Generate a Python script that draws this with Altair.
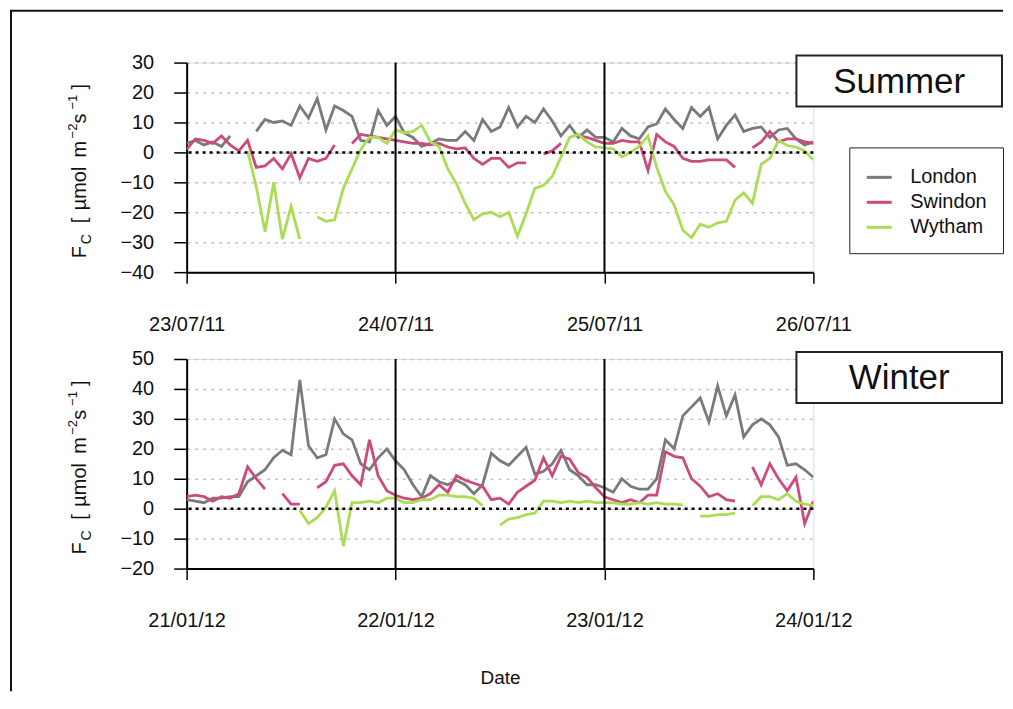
import pandas as pd
import altair as alt

FONT = 'Liberation Sans'

sites = ['London', 'Swindon', 'Wytham']
colours = ['#7a7a7a', '#cc4a7c', '#aadd55']

# hourly flux values (umol m-2 s-1), None = missing
summer_start = (2011, 7, 23)
summer_london = [3, 4, 2.5, 3.5, 2, 5.5, None, None, 7, 11, 10, 10.5, 9, 15.5, 11.5, 18, 7.5, 15.5, 14, 12, 4, 3.5, 14, 9,
                 12, 6.5, 5, 2, 3, 4.5, 4, 4, 7, 4, 11, 7, 8.5, 15, 8.5, 12, 10, 14.5, 10.5, 5.5, 9, 5, 7.5, 5,
                 5, 3.5, 8, 5.5, 4.5, 8.5, 9.5, 14.5, 11, 8, 15, 12, 15, 4.5, 9, 12.5, 7, 8, 8.5, 5, 7.5, 8, 4.5, 2.5, 3.5]
summer_swindon = [1, 4.5, 4, 3, 5.5, 2.5, 0.5, 4, -5, -4.5, -2, -5.5, -0.5, -8.5, -2, -3, -2, 2.5, None, 3, 6, 5.5, 5, 4.5,
                  4, 3.5, 3, 3, 2.5, 3, 1.8, 1.2, 1.5, -2, -4, -2, -2, -5, -3.5, -3.5, None, -0.5, 0.5, 3, None, 5.5, 5, 4,
                  3, 3, 4, 3.5, 3.5, -6, 6, 3.5, 2, -2, -3, -3, -2.5, -2.5, -2.5, -5, None, 1.5, 3.5, 7, 3.5, 4.5, 4.5, 3.5, 3]
summer_wytham = [None, None, None, None, None, None, None, 0.5, -11.5, -26.5, -10, -29, -18, -29, None, -21.5, -23, -22.5, -12, -5.5, 1, 5, 5, 3,
                 7.5, 6.5, 7, 9, 3.5, 2, -5.5, -10.5, -17, -22.5, -20.5, -20, -21.5, -20, -28, -20.5, -12, -11, -8, -1.5, 5, 6, 3.5, 1.8,
                 1.5, 1.2, -1.5, 0, 2, 5.5, -5, -13, -17.5, -26, -28.5, -24, -25, -23.5, -23, -16, -13.5, -17, -4, -2, 4, 2.3, 1.8, 0.5, -2.5]

winter_start = (2012, 1, 21)
winter_london = [3, 2.5, 2, 3.5, 3.5, 4, 4, 9, 11, 13, 17, 19.5, 18, 43, 21, 17, 18, 30, 25, 23, 15, 13, 17, 20,
                 16, 13, 8, 4, 11, 9, 8, 9.5, 8, 5, 8, 18.5, 16, 14.5, 17.5, 20.5, 11.5, 12.5, 15, 19.5, 13, 11, 8, 8,
                 7, 5.5, 10, 7.5, 6.5, 6.5, 10, 23, 20, 31, 34, 37, 29, 41, 31, 38, 24, 28, 30, 28, 24, 14.5, 15, 13, 10.5]
winter_swindon = [4, 4.5, 4, 2.5, 4, 3.5, 5, 14, 10, 6.5, None, 5, 1.5, 1.5, None, 7, 9, 14.5, 15, 11, 8, 23, 11, 6,
                  4.5, 3.5, 3, 3.5, 5, 8, 5.5, 11, 9.5, 8.5, 7.5, 3, 3.5, 1.5, 5.5, 7.5, 9.5, 17, 11, 17.5, 16.5, 12, 10.5, 7,
                  4, 3, 2, 3, 2, 4.5, 4.5, 19, 17.5, 17, 10, 7.5, 4, 5, 3, 2.5, None, 14, 8, 15, 10, 6, 10.5, -5, 2.5]
winter_wytham = [None, None, None, None, None, None, None, None, None, None, None, None, None, -0.5, -5, -3, 0.5, 6, -12.5, 2, 2, 2.5, 2, 3.5,
                 3.5, 2, 2, 3, 3, 4.5, 4.5, 4, 4, 3.5, 1, None, -5.5, -3.5, -3, -2, -1.5, 2.5, 2.5, 2, 2.5, 2, 2.5, 2,
                 2, 2, 1.5, 1.5, 2, 1.5, 2, 1.5, 1.5, 1.3, None, -2.5, -2.5, -2, -2, -1.5, None, 1, 4, 4, 3, 5, 2.5, 1.5, 1]

seasons = {
    'Summer': (summer_start, [-40, 30], [summer_london, summer_swindon, summer_wytham]),
    'Winter': (winter_start, [-20, 50], [winter_london, winter_swindon, winter_wytham]),
}

# y-axis title pieces: text, position along the axis, size, baseline offset
title_pieces = [('F', 196, 20, 0), ('C', 182, 14, 5), ('[', 161, 20, 0), ('\u00b5mol', 148, 20, 0),
                ('m', 95, 20, 0), ('\u22122', 76, 13, -9), ('s', 61, 20, 0), ('\u22121', 47, 13, -9), (']', 27, 20, 0)]

W, H = 628, 210


def build_frame(season):
    start, ydom, series = seasons[season]
    t0 = pd.Timestamp(*start)
    rows = []
    for site, values in zip(sites, series):
        seg = 0
        for h, v in enumerate(values):
            if v is None:
                seg += 1
                continue
            rows.append({'site': site, 'seg': f'{site}{seg}',
                         'time': t0 + pd.Timedelta(hours=h), 'fc': v})
    return pd.DataFrame(rows)


def panel(season, top):
    start, ydom, series = seasons[season]
    df = build_frame(season)
    days = [alt.DateTime(year=start[0], month=start[1], date=start[2] + d) for d in range(4)]
    x_scale = alt.Scale(domain=[days[0], days[-1]])
    y_scale = alt.Scale(domain=ydom, nice=False)

    x_axis = alt.Axis(values=days, format='%d/%m/%y', labelFontSize=20, labelFont=FONT,
                      labelColor='#111', tickSize=11, tickColor='black', tickWidth=1.5,
                      domainColor='black', domainWidth=2, labelPadding=31, grid=False,
                      labelFlush=False, labelOverlap=False,
                      title=None if top else 'Date', titleFontSize=19, titleFont=FONT,
                      titleFontWeight='normal', titleColor='#111', titlePadding=38)
    y_axis = alt.Axis(values=list(range(ydom[0], ydom[1] + 1, 10)), title=None,
                      labelFontSize=20, labelFont=FONT, labelColor='#111', tickSize=13,
                      tickColor='black', tickWidth=1.5, domainColor='black', domainWidth=2,
                      labelPadding=20, labelOverlap=False, labelFlush=False,
                      grid=True, gridColor='#c4c4c4', gridDash=[3, 5], gridWidth=1.5)

    if top:
        legend = alt.Legend(title=None, orient='none', legendX=664, legendY=85,
                            symbolType='stroke', symbolStrokeWidth=3, symbolSize=625,
                            labelFontSize=20, labelFont=FONT, labelColor='#111',
                            labelOffset=17, rowPadding=1, padding=16,
                            strokeColor='#222', fillColor='white')
    else:
        legend = None

    lines = alt.Chart(df).mark_line(strokeWidth=2.8, clip=True).encode(
        x=alt.X('time:T', scale=x_scale, axis=x_axis),
        y=alt.Y('fc:Q', scale=y_scale, axis=y_axis),
        color=alt.Color('site:N', scale=alt.Scale(domain=sites, range=colours), legend=legend),
        detail='seg:N',
    )

    day_df = pd.DataFrame({'time': [pd.Timestamp(*start) + pd.Timedelta(days=d) for d in (1, 2)]})
    day_rules = alt.Chart(day_df).mark_rule(color='black', strokeWidth=2).encode(
        x=alt.X('time:T', scale=x_scale, axis=x_axis))

    zero = alt.Chart(pd.DataFrame({'fc': [0]})).mark_rule(
        color='black', strokeDash=[3, 4], strokeWidth=2.5).encode(
        y=alt.Y('fc:Q', scale=y_scale, axis=y_axis))

    lab = pd.DataFrame({'season': [season]})
    box = alt.Chart(lab).mark_rect(fill='white', stroke='#222', strokeWidth=2).encode(
        x=alt.value(611), x2=alt.value(817), y=alt.value(-7), y2=alt.value(44))
    box_text = alt.Chart(lab).mark_text(fontSize=35, font=FONT, color='#111',
                                        baseline='middle', align='center').encode(
        x=alt.value(714), y=alt.value(19), text='season:N')

    layers = [lines, day_rules, zero, box, box_text]

    for text, pos, size, off in title_pieces:
        layers.append(alt.Chart(pd.DataFrame({'t': [text]})).mark_text(
            angle=270, align='left', baseline='alphabetic', fontSize=size, font=FONT,
            color='#111').encode(x=alt.value(-101 + off), y=alt.value(pos), text='t:N'))

    if top:
        one = pd.DataFrame({'k': [0]})
        layers.append(alt.Chart(one).mark_rule(color='#111', strokeWidth=2).encode(
            x=alt.value(-177), x2=alt.value(818), y=alt.value(-52)))
        layers.append(alt.Chart(one).mark_rule(color='#111', strokeWidth=2).encode(
            x=alt.value(-176), y=alt.value(-52), y2=alt.value(630)))

    return alt.layer(*layers).properties(width=W, height=H)


chart = alt.vconcat(panel('Summer', True), panel('Winter', False), spacing=87, bounds='flush')
chart = chart.resolve_legend(color='independent').properties(
    padding={'left': 0, 'top': 0, 'right': 0, 'bottom': 0}
).configure_view(stroke='#777', strokeWidth=2).configure(background='white')

chart.save("out.html", embed_options={"renderer": "svg", "actions": False})
